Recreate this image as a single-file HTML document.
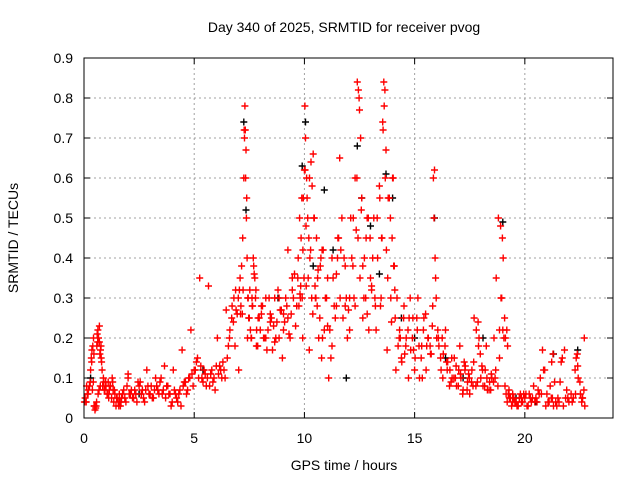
<!DOCTYPE html>
<html><head><meta charset="utf-8"><style>
body{margin:0;background:#fff}
svg{display:block;font-family:"Liberation Sans",sans-serif}
</style></head><body>
<svg id="chart" width="640" height="480" viewBox="0 0 640 480" xmlns="http://www.w3.org/2000/svg">
<rect x="0" y="0" width="640" height="480" fill="#fff"/>
<text x="344" y="32" font-size="14" text-anchor="middle" fill="#000">Day 340 of 2025, SRMTID for receiver pvog</text>
<g id="grid"></g>
<g id="ticks"></g>
<g id="marks"></g>
<rect x="84" y="58" width="529" height="360" fill="none" stroke="#000" stroke-width="1"/>
<text x="344" y="470" font-size="14" text-anchor="middle">GPS time / hours</text>
<text x="18" y="238" font-size="14" text-anchor="middle" transform="rotate(-90 18 238)">SRMTID / TECUs</text>
</svg>
<script>
const xTicks=[0,5,10,15,20];
const yTicks=[0,0.1,0.2,0.3,0.4,0.5,0.6,0.7,0.8,0.9];
const yTickLabels=["0","0.1","0.2","0.3","0.4","0.5","0.6","0.7","0.8","0.9"];
const redT=[0.02,0.05,0.1,0.15,0.2,0.25,0.3,0.33,0.36,0.4,0.43,0.46,0.5,0.52,0.55,0.58,0.6,0.63,0.66,0.7,0.72,0.75,0.78,0.82,0.85,0.9,0.95,1.0,1.05,1.1,1.15,1.2,1.25,1.3,1.35,1.4,1.45,1.5,1.55,1.6,1.65,1.7,1.8,1.9,2.0,2.1,2.2,2.3,2.4,2.5,2.6,2.7,2.8,2.9,3.0,3.1,3.2,3.3,3.4,3.5,3.6,3.7,3.8,3.9,4.0,4.1,4.2,4.3,4.4,4.5,4.6,4.7,4.8,4.9,5.0,5.1,5.2,5.3,5.4,5.5,5.6,5.7,5.8,5.9,6.0,6.1,6.2,6.3,6.4,6.5,6.6,6.7,6.8,6.9,7.0,7.05,7.1,7.15,7.2,7.25,7.28,7.3,7.32,7.35,7.38,7.4,7.45,7.5,7.55,7.6,7.65,7.7,7.75,7.8,7.85,7.9,8.0,8.1,8.2,8.3,8.4,8.5,8.6,8.7,8.8,8.9,9.0,9.1,9.2,9.3,9.4,9.5,9.6,9.7,9.75,9.8,9.85,9.9,9.95,10.0,10.02,10.05,10.1,10.15,10.2,10.25,10.3,10.35,10.4,10.45,10.5,10.55,10.6,10.7,10.75,10.8,10.9,11.0,11.1,11.2,11.3,11.4,11.5,11.55,11.6,11.7,11.8,11.9,12.0,12.1,12.2,12.3,12.4,12.45,12.5,12.55,12.6,12.7,12.8,12.9,13.0,13.1,13.2,13.3,13.4,13.5,13.55,13.6,13.65,13.7,13.8,13.9,14.0,14.05,14.1,14.2,14.3,14.4,14.5,14.6,14.7,14.8,14.9,15.0,15.1,15.2,15.3,15.4,15.5,15.6,15.7,15.8,15.85,15.9,15.95,16.0,16.1,16.2,16.3,16.4,16.5,16.6,16.7,16.8,16.9,17.0,17.1,17.2,17.3,17.4,17.5,17.6,17.7,17.8,17.9,18.0,18.1,18.2,18.3,18.4,18.5,18.6,18.7,18.8,18.9,18.95,19.0,19.05,19.1,19.15,19.2,19.3,19.4,19.5,19.6,19.7,19.8,19.9,20.0,20.1,20.2,20.3,20.4,20.5,20.6,20.7,20.8,20.9,21.0,21.1,21.2,21.3,21.4,21.5,21.6,21.7,21.8,21.9,22.0,22.1,22.2,22.3,22.4,22.5,22.6,22.7,0.12,0.38,0.42,0.64,0.68,0.74,1.12,1.32,1.62,2.05,2.45,2.85,3.25,3.65,4.05,4.45,4.85,5.25,5.65,6.05,6.45,6.85,7.02,7.18,7.42,7.62,7.82,8.05,8.25,8.45,8.65,8.85,9.05,9.25,9.45,9.65,9.82,9.92,10.08,10.22,10.38,10.52,10.62,10.82,11.05,11.25,11.45,11.65,11.85,12.05,12.25,12.35,12.65,12.85,13.05,13.25,13.45,13.75,13.95,14.15,14.35,14.55,14.75,14.95,15.15,15.35,15.55,15.75,16.05,16.25,16.45,16.65,16.85,17.05,17.25,17.45,17.65,17.85,18.05,18.25,18.45,18.65,18.85,19.25,19.45,19.65,19.85,20.05,20.25,20.45,20.65,20.85,21.05,21.25,21.45,21.65,21.85,22.05,22.25,22.45,22.65];
const redV=[0.04,0.05,0.04,0.06,0.07,0.08,0.12,0.15,0.17,0.18,0.2,0.03,0.02,0.03,0.03,0.18,0.21,0.22,0.2,0.19,0.16,0.17,0.15,0.12,0.08,0.09,0.07,0.08,0.06,0.09,0.07,0.08,0.05,0.09,0.04,0.06,0.03,0.05,0.04,0.06,0.03,0.05,0.07,0.04,0.1,0.06,0.05,0.07,0.04,0.08,0.06,0.05,0.07,0.08,0.06,0.05,0.07,0.08,0.06,0.1,0.07,0.05,0.08,0.06,0.04,0.07,0.05,0.06,0.03,0.08,0.09,0.07,0.1,0.11,0.12,0.14,0.1,0.13,0.09,0.11,0.1,0.08,0.12,0.1,0.13,0.11,0.12,0.14,0.1,0.15,0.2,0.25,0.3,0.27,0.3,0.32,0.26,0.38,0.45,0.6,0.7,0.78,0.72,0.67,0.55,0.4,0.3,0.25,0.22,0.2,0.28,0.38,0.35,0.32,0.18,0.25,0.22,0.28,0.2,0.17,0.3,0.25,0.23,0.2,0.32,0.27,0.15,0.24,0.28,0.21,0.26,0.3,0.23,0.35,0.28,0.31,0.45,0.3,0.55,0.62,0.78,0.7,0.6,0.5,0.45,0.4,0.64,0.58,0.66,0.5,0.3,0.45,0.35,0.25,0.4,0.42,0.22,0.3,0.1,0.15,0.35,0.25,0.4,0.45,0.65,0.5,0.4,0.3,0.27,0.5,0.38,0.6,0.84,0.82,0.77,0.7,0.55,0.3,0.45,0.5,0.35,0.4,0.3,0.5,0.58,0.45,0.74,0.84,0.82,0.67,0.55,0.5,0.6,0.38,0.32,0.3,0.2,0.15,0.25,0.18,0.22,0.3,0.2,0.12,0.25,0.18,0.15,0.22,0.26,0.2,0.18,0.23,0.6,0.62,0.35,0.2,0.18,0.12,0.16,0.22,0.14,0.12,0.1,0.15,0.08,0.12,0.1,0.07,0.13,0.09,0.06,0.12,0.25,0.22,0.18,0.1,0.08,0.12,0.07,0.09,0.1,0.2,0.35,0.5,0.48,0.3,0.22,0.2,0.08,0.06,0.04,0.05,0.03,0.05,0.04,0.03,0.06,0.04,0.05,0.03,0.06,0.04,0.08,0.05,0.07,0.1,0.17,0.12,0.06,0.04,0.05,0.03,0.04,0.05,0.09,0.15,0.17,0.07,0.04,0.06,0.05,0.06,0.13,0.09,0.05,0.2,0.08,0.07,0.09,0.06,0.07,0.08,0.05,0.07,0.04,0.06,0.09,0.12,0.1,0.13,0.12,0.17,0.22,0.35,0.33,0.2,0.27,0.18,0.12,0.26,0.2,0.3,0.18,0.26,0.2,0.24,0.19,0.3,0.26,0.42,0.35,0.28,0.3,0.2,0.33,0.17,0.26,0.3,0.37,0.2,0.23,0.18,0.28,0.42,0.28,0.22,0.3,0.47,0.38,0.26,0.33,0.22,0.28,0.17,0.24,0.12,0.2,0.16,0.25,0.17,0.3,0.1,0.18,0.16,0.22,0.2,0.14,0.09,0.1,0.18,0.14,0.11,0.08,0.09,0.13,0.18,0.07,0.1,0.22,0.06,0.04,0.03,0.05,0.06,0.05,0.04,0.06,0.12,0.04,0.05,0.03,0.14,0.05];
const redT2=[0.08,0.18,0.28,0.35,0.45,0.48,0.53,0.57,0.62,0.7,
0.77,0.8,0.88,0.92,0.98,1.08,1.18,1.28,1.38,1.48,
1.58,1.68,1.75,1.85,1.95,2.0,2.15,2.25,2.35,2.55,
2.65,2.75,2.95,3.05,3.15,3.35,3.45,3.55,3.75,3.85,
3.95,4.15,4.25,4.35,4.55,4.65,4.75,4.95,5.05,5.15,
5.35,5.45,5.55,5.75,5.85,5.95,6.15,6.25,6.35,6.55,
6.62,6.72,6.78,6.88,6.95,7.08,7.12,7.22,7.27,7.33,
7.37,7.43,7.47,7.52,7.58,7.63,7.68,7.72,7.78,7.83,
7.88,7.95,8.05,8.15,8.25,8.35,8.45,8.55,8.65,8.75,
8.85,8.95,9.05,9.15,9.25,9.35,9.45,9.55,9.65,9.72,
9.78,9.83,9.88,9.93,9.98,10.03,10.07,10.12,10.17,10.23,
10.28,10.33,10.43,10.48,10.58,10.65,10.72,10.78,10.85,10.95,
11.05,11.15,11.25,11.35,11.45,11.52,11.62,11.75,11.85,11.95,
12.05,12.15,12.22,12.3,12.38,12.43,12.48,12.52,12.58,12.65,
12.72,12.78,12.85,12.92,12.98,13.05,13.15,13.22,13.32,13.42,
13.48,13.52,13.57,13.62,13.67,13.72,13.78,13.85,13.92,13.98,
14.03,14.08,14.12,14.25,14.32,14.42,14.52,14.62,14.72,14.82,
14.92,15.02,15.12,15.22,15.32,15.42,15.52,15.62,15.72,15.82,
15.88,15.93,15.98,16.08,16.18,16.28,16.38,16.48,16.58,16.68,
16.78,16.88,16.98,17.08,17.18,17.28,17.38,17.48,17.58,17.68,
17.78,17.88,17.92,17.98,18.08,18.18,18.28,18.38,18.48,18.58,
18.68,18.78,18.85,18.92,18.98,19.02,19.08,19.12,19.18,19.22,
19.28,19.35,19.45,19.55,19.65,19.75,19.85,19.95,20.15,20.35,
20.55,20.75,20.95,21.15,21.22,21.28,21.35,21.55,21.75,21.95,
22.15,22.28,22.33,22.38,22.42,22.52,22.58,22.62,22.68,22.72];
const redV2=[0.04,0.06,0.09,0.14,0.16,0.03,0.025,0.04,0.19,0.23,
0.18,0.14,0.1,0.07,0.09,0.06,0.08,0.1,0.07,0.05,
0.03,0.04,0.06,0.05,0.08,0.11,0.07,0.05,0.06,0.09,
0.07,0.04,0.06,0.08,0.05,0.07,0.09,0.06,0.08,0.06,
0.03,0.06,0.04,0.07,0.09,0.06,0.1,0.08,0.12,0.15,
0.1,0.12,0.08,0.11,0.09,0.07,0.13,0.1,0.12,0.18,
0.22,0.28,0.24,0.32,0.26,0.35,0.28,0.32,0.72,0.6,
0.5,0.3,0.25,0.32,0.2,0.28,0.4,0.36,0.3,0.22,
0.18,0.25,0.28,0.2,0.3,0.22,0.26,0.17,0.3,0.24,
0.2,0.27,0.22,0.3,0.25,0.2,0.32,0.36,0.28,0.4,
0.5,0.33,0.55,0.42,0.35,0.62,0.48,0.55,0.35,0.6,
0.42,0.3,0.5,0.33,0.28,0.2,0.38,0.15,0.42,0.3,
0.35,0.22,0.4,0.28,0.36,0.45,0.3,0.25,0.38,0.2,
0.3,0.4,0.5,0.28,0.6,0.45,0.8,0.35,0.52,0.25,
0.4,0.3,0.5,0.22,0.45,0.32,0.5,0.28,0.4,0.55,
0.3,0.45,0.72,0.78,0.6,0.42,0.35,0.55,0.3,0.45,
0.6,0.38,0.25,0.18,0.22,0.14,0.28,0.2,0.1,0.17,
0.25,0.15,0.22,0.1,0.18,0.25,0.12,0.2,0.16,0.28,
0.5,0.4,0.3,0.2,0.15,0.1,0.18,0.12,0.08,0.15,
0.1,0.13,0.08,0.11,0.06,0.12,0.07,0.1,0.09,0.14,
0.08,0.24,0.2,0.16,0.12,0.08,0.1,0.07,0.11,0.09,
0.12,0.08,0.15,0.3,0.45,0.4,0.25,0.2,0.22,0.18,
0.07,0.05,0.06,0.04,0.03,0.05,0.04,0.06,0.03,0.05,
0.04,0.06,0.03,0.08,0.14,0.16,0.09,0.04,0.03,0.05,
0.04,0.12,0.15,0.16,0.1,0.06,0.04,0.05,0.07,0.03];
const blackT=[0.3,2.5,5.4,7.25,7.35,8.8,9.9,10.05,10.4,10.9,11.3,11.9,12.4,12.6,13.0,13.4,13.7,14.0,14.4,15.0,15.9,16.4,17.2,18.1,19.0,19.6,20.5,21.3,22.4];
const blackV=[0.1,0.06,0.12,0.74,0.52,0.3,0.63,0.74,0.38,0.57,0.42,0.1,0.68,0.55,0.48,0.36,0.61,0.55,0.25,0.2,0.5,0.15,0.1,0.2,0.49,0.05,0.04,0.16,0.17];
const NS="http://www.w3.org/2000/svg";
const X0=84,X1=613,Y0=418,Y1=58,XMAX=24,YMAX=0.9;
function xs(t){return X0+(t/XMAX)*(X1-X0);}
function ys(v){return Y0-(v/YMAX)*(Y0-Y1);}
const grid=document.getElementById('grid'),ticks=document.getElementById('ticks'),marks=document.getElementById('marks');
function mk(tag,attrs,parent){const e=document.createElementNS(NS,tag);for(const k in attrs)e.setAttribute(k,attrs[k]);parent.appendChild(e);return e;}
xTicks.forEach(t=>{
  const x=xs(t);
  if(t>0){const g=mk('line',{x1:x,x2:x,y1:Y1,y2:Y0,stroke:'#a0a0a0','stroke-dasharray':'2,3'},grid);
  
  }
  const a=mk('line',{x1:x,x2:x,y1:Y0,y2:Y0-6,stroke:'#000'},ticks);
  
  
  const b=mk('line',{x1:x,x2:x,y1:Y1,y2:Y1+6,stroke:'#000'},ticks);
  
  
  const l=mk('text',{x:x,y:443,'font-size':14,'text-anchor':'middle'},ticks);l.textContent=t;
  
  
});
yTicks.forEach((v,i)=>{
  const y=ys(v);
  if(v>0&&v<YMAX){const g=mk('line',{x1:X0,x2:X1,y1:y,y2:y,stroke:'#a0a0a0','stroke-dasharray':'2,3'},grid);
  
  }
  const a=mk('line',{x1:X0,x2:X0+6,y1:y,y2:y,stroke:'#000'},ticks);
  
  
  const b=mk('line',{x1:X1,x2:X1-6,y1:y,y2:y,stroke:'#000'},ticks);
  
  
  const l=mk('text',{x:73,y:y+5,'font-size':14,'text-anchor':'end'},ticks);l.textContent=yTickLabels[i];
  
  
});
function series(T,V,color,name){
  let d='';
  for(let i=0;i<T.length;i++){const x=xs(T[i]),y=ys(V[i]);d+=`M${(x-3.5).toFixed(1)} ${y.toFixed(1)}h7M${x.toFixed(1)} ${(y-3.5).toFixed(1)}v7`;}
  const p=mk('path',{d:d,stroke:color,'stroke-width':1.4,fill:'none'},marks);
  
  
}
series(blackT,blackV,'#000','black-series-points');
series(redT,redV,'#ff0000','red-series-points');
series(redT2,redV2,'#ff0000','red-series-points-2');
</script>
</body></html>
